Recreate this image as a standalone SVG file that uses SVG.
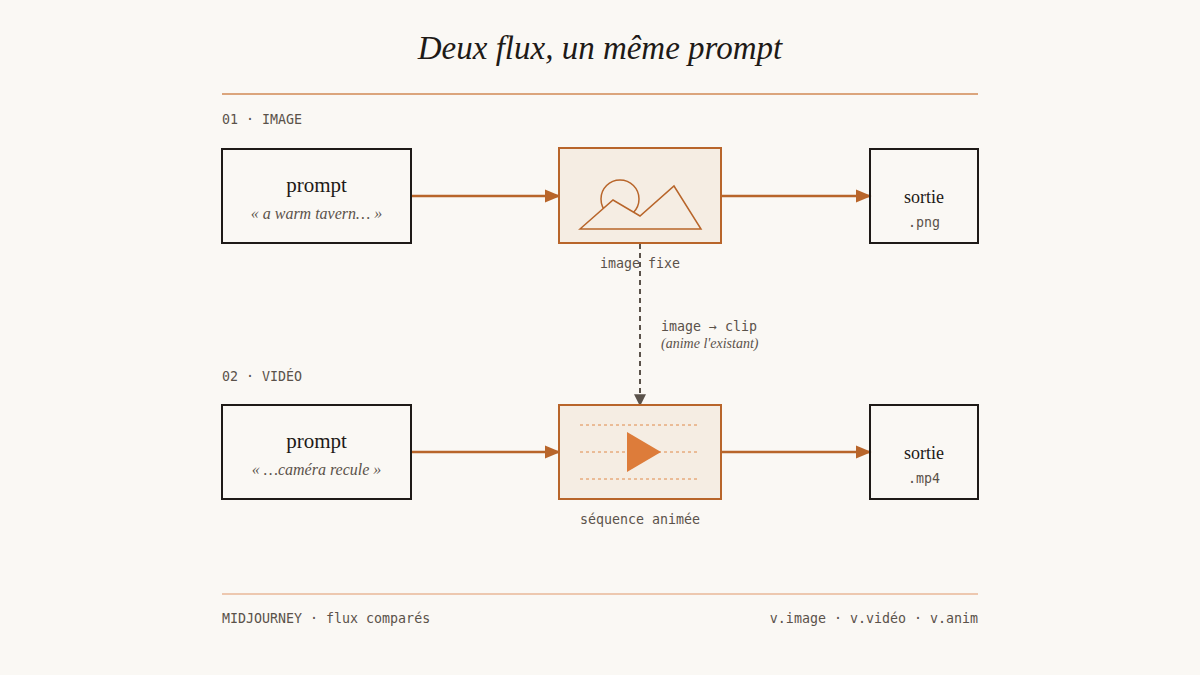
<svg xmlns="http://www.w3.org/2000/svg" width="1200" height="675" viewBox="0 0 1200 675">
<defs>
<style>
.mono{font-family:"DejaVu Sans Mono","Liberation Mono",monospace;font-size:13.3px;fill:#5a524a}
.serif{font-family:"Liberation Serif",serif}
.box{fill:none;stroke:#1e1a17;stroke-width:2}
.obox{fill:#f5ede3;stroke:#b8652a;stroke-width:2}
.flow{stroke:#b8652a;stroke-width:2.5;fill:none}
.dot{stroke:#e08a4a;stroke-width:1;stroke-dasharray:3 3}
</style>
<marker id="ah" viewBox="0 0 10 10" refX="9" refY="5" markerWidth="16" markerHeight="16" orient="auto" markerUnits="userSpaceOnUse"><path d="M0,0.8L10,5L0,9.2z" fill="#b8652a"/></marker>
<marker id="ahg" viewBox="0 0 10 10" refX="9" refY="5" markerWidth="12" markerHeight="12" orient="auto" markerUnits="userSpaceOnUse"><path d="M0,0L10,5L0,10z" fill="#5a524a"/></marker>
</defs>
<rect width="1200" height="675" fill="#faf8f4"/>
<text x="600" y="59" text-anchor="middle" class="serif" font-style="italic" font-size="33" fill="#1e1a17">Deux flux, un même prompt</text>
<line x1="222" y1="94" x2="978" y2="94" stroke="#d08a55" stroke-width="1.5"/>
<line x1="222" y1="594" x2="978" y2="594" stroke="#e8b898" stroke-width="1.5"/>
<text x="222" y="124" class="mono">01 · IMAGE</text>
<text x="222" y="381" class="mono">02 · VIDÉO</text>
<g id="connectors">
<line x1="411" y1="196" x2="559" y2="196" class="flow" marker-end="url(#ah)"/>
<line x1="722" y1="196" x2="870" y2="196" class="flow" marker-end="url(#ah)"/>
<line x1="411" y1="452" x2="559" y2="452" class="flow" marker-end="url(#ah)"/>
<line x1="722" y1="452" x2="870" y2="452" class="flow" marker-end="url(#ah)"/>
<line x1="640" y1="244" x2="640" y2="405" stroke="#5a524a" stroke-width="2" stroke-dasharray="5 4" marker-end="url(#ahg)"/>
<text x="661" y="331" class="mono">image → clip</text>
<text x="661" y="348" class="serif" font-style="italic" font-size="14" fill="#5a524a">(anime l'existant)</text>
</g>
<g id="prompt1"><rect x="222" y="149" width="189" height="94" class="box"/>
<text x="316.5" y="192" text-anchor="middle" class="serif" font-size="21" fill="#1e1a17">prompt</text>
<text x="316.5" y="219" text-anchor="middle" class="serif" font-style="italic" font-size="16" fill="#5a524a">« a warm tavern… »</text></g>
<g id="image"><rect x="559" y="148" width="162" height="95" class="obox"/>
<circle cx="620" cy="199" r="19" fill="none" stroke="#b8652a" stroke-width="1.5"/>
<polygon points="580,229 613,200 640,216 674,186 701,229" fill="#f5ede3" stroke="#b8652a" stroke-width="1.5"/>
<text x="640" y="268" text-anchor="middle" class="mono">image fixe</text></g>
<g id="out1"><rect x="870" y="149" width="108" height="94" class="box"/>
<text x="924" y="203" text-anchor="middle" class="serif" font-size="18" fill="#1e1a17">sortie</text>
<text x="924" y="227" text-anchor="middle" class="mono">.png</text></g>
<g id="prompt2"><rect x="222" y="405" width="189" height="94" class="box"/>
<text x="316.5" y="448" text-anchor="middle" class="serif" font-size="21" fill="#1e1a17">prompt</text>
<text x="316.5" y="475" text-anchor="middle" class="serif" font-style="italic" font-size="16" fill="#5a524a">« …caméra recule »</text></g>
<g id="video"><rect x="559" y="405" width="162" height="94" class="obox"/>
<line x1="580" y1="425" x2="698" y2="425" class="dot"/>
<line x1="580" y1="452" x2="698" y2="452" class="dot"/>
<line x1="580" y1="479" x2="698" y2="479" class="dot"/>
<polygon points="627,432 627,472 661,452" fill="#dd7c3a"/>
<text x="640" y="524" text-anchor="middle" class="mono">séquence animée</text></g>
<g id="out2"><rect x="870" y="405" width="108" height="94" class="box"/>
<text x="924" y="459" text-anchor="middle" class="serif" font-size="18" fill="#1e1a17">sortie</text>
<text x="924" y="483" text-anchor="middle" class="mono">.mp4</text></g>
<text x="222" y="623" class="mono">MIDJOURNEY · flux comparés</text>
<text x="978" y="623" text-anchor="end" class="mono">v.image · v.vidéo · v.anim</text>
</svg>
